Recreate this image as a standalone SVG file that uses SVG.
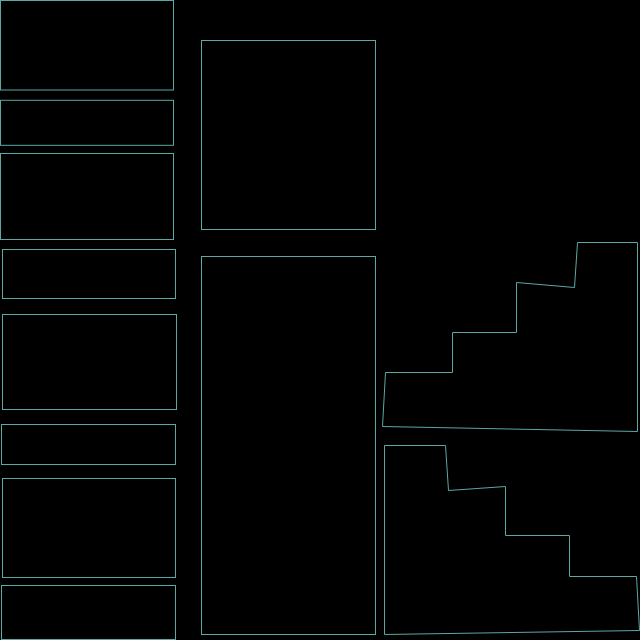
<svg xmlns="http://www.w3.org/2000/svg" width="640" height="640" viewBox="0 0 640 640">
<style>
.s{fill:none;stroke:#5aa9a5;stroke-width:1}
</style>
<rect x="0" y="0" width="640" height="640" fill="#000"/>
<g id="left-column">
<rect class="s" x="0.5" y="0.5" width="173" height="89.5"/>
<rect class="s" x="0.5" y="100.3" width="173" height="45"/>
<rect class="s" x="0.5" y="153.5" width="173" height="86"/>
<rect class="s" x="2.5" y="249.5" width="173" height="49"/>
<rect class="s" x="2.5" y="314.5" width="174" height="95"/>
<rect class="s" x="1.5" y="424.5" width="174" height="40"/>
<rect class="s" x="2.5" y="478.5" width="173" height="99"/>
<rect class="s" x="1.5" y="585.5" width="174" height="54"/>
</g>
<g id="middle-column">
<rect class="s" x="201.5" y="40.5" width="174" height="189"/>
<rect class="s" x="201.5" y="256.5" width="174" height="378"/>
</g>
<g id="right-column">
<polygon class="s" points="637.5,242.5 577.5,242.5 574.5,287.5 516.5,282.5 516.5,332.5 452.5,332.5 452.5,372.5 385.5,372.5 382.5,426.5 637.5,431.5"/>
<polygon class="s" points="384.5,445.5 445.5,445.5 448.5,490.5 505.5,486.5 505.5,535.5 569.5,535.5 569.5,576.5 636.5,576.5 639.5,630.5 384.5,634.5"/>
</g>
</svg>
